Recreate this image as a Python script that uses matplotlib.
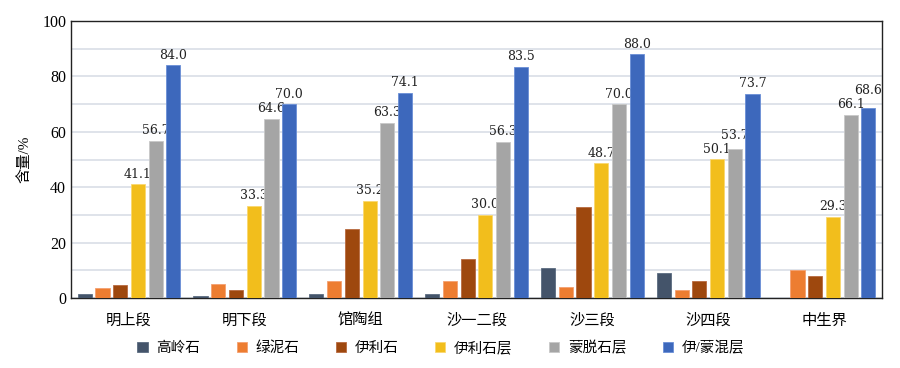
import numpy as np
import matplotlib
matplotlib.use("Agg")
import matplotlib.pyplot as plt

plt.rcParams["font.family"] = ["Liberation Serif", "Noto Sans CJK SC"]

# ---- Data ----
groups = ["明上段", "明下段", "馆陶组", "沙一二段", "沙三段", "沙四段", "中生界"]
series_names = ["高岭石", "绿泥石", "伊利石", "伊利石层", "蒙脱石层", "伊/蒙混层"]
kaolinite = [1.5, 0.6, 1.5, 1.5, 11, 9, 0]
chlorite = [3.5, 5, 6, 6, 4, 3, 10]
illite = [4.7, 2.8, 25, 14, 33, 6, 8]
illite_layer = [41.1, 33.3, 35.2, 30.0, 48.7, 50.1, 29.3]
smectite_layer = [56.7, 64.6, 63.3, 56.3, 70.0, 53.7, 66.1]
mixed_layer = [84.0, 70.0, 74.1, 83.5, 88.0, 73.7, 68.6]

series = [kaolinite, chlorite, illite, illite_layer, smectite_layer, mixed_layer]
colors = ["#44546A", "#ED7D31", "#9E480E", "#F2BE1C", "#A5A5A5", "#3D68BC"]
edges = ["#5B6B80", "#F4A070", "#B86A40", "#FAD870", "#C8C8C8", "#6A8FD6"]
labelled = [3, 4, 5]

fig = plt.figure(figsize=(9, 3.68), dpi=100)
ax = fig.add_axes([0.079, 0.19, 0.901, 0.753])

x = np.arange(len(groups))
step = 0.153
width = 0.122
for i, (vals, name) in enumerate(zip(series, series_names)):
    pos = x + (i - 2.5) * step
    bars = ax.bar(pos, vals, width, color=colors[i], edgecolor=edges[i],
                  linewidth=0.6, label=name, zorder=3)
    if i in labelled:
        for j, (b, v) in enumerate(zip(bars, vals)):
            y = v
            # lift a label that would collide with its left neighbour's label
            prev = series[i - 1][j]
            if i - 1 in labelled and abs(v - prev) < 4:
                y = prev + 5
            ax.text(b.get_x() + b.get_width() / 2, y + 1.3, f"{v:.1f}",
                    ha="center", va="bottom", fontsize=9,
                    family=["DejaVu Serif"], color="#222222")

ax.set_xlim(-0.5, len(groups) - 0.5)
ax.set_ylim(0, 100)
ax.set_yticks(np.arange(0, 101, 20))
ax.set_yticks(np.arange(0, 101, 10), minor=True)
ax.grid(axis="y", which="both", color="#D9DEE6", linewidth=1.2, zorder=0)
ax.set_xticks(x)
ax.set_xticklabels(groups, fontsize=11)
ax.tick_params(axis="both", length=0, labelsize=11.5)
ax.tick_params(axis="x", pad=11, labelsize=11)
ax.tick_params(axis="y", which="minor", length=0)
for s in ax.spines.values():
    s.set_color("#222222")
    s.set_linewidth(1.0)

ax.set_ylabel("含量/%", fontsize=11)
ax.yaxis.set_label_coords(-0.049, 0.5)

fig.legend(loc="center", bbox_to_anchor=(0.49, 0.054), ncol=6, frameon=False,
           fontsize=10.5, handlelength=0.7, handleheight=0.7, columnspacing=2.5,
           handletextpad=0.6)

fig.savefig("out.png", dpi=100)
